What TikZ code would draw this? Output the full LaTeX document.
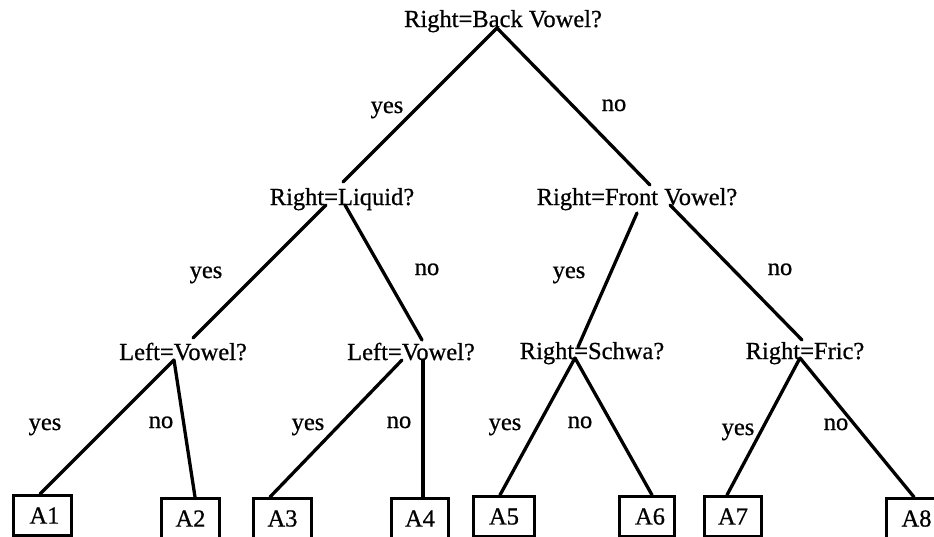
\documentclass[tikz,border=0pt]{standalone}
\usepackage{fontspec}
\newfontfamily\treefont{Liberation Serif}[FakeBold=0.7]
\usetikzlibrary{calc}
\begin{document}
\begin{tikzpicture}[x=1pt,y=-1pt,
  txt/.style={anchor=base,inner sep=0pt,font=\treefont\fontsize{24.5}{28}\selectfont},
  lbl/.style={anchor=base,inner sep=0pt,font=\treefont\fontsize{24.5}{28}\selectfont},
  leaf/.style={draw,line width=3pt,anchor=north west,inner sep=0pt,
    minimum height=40,font=\treefont\fontsize{24.5}{28}\selectfont},
  edge/.style={line width=3.3pt,line cap=round}]
\useasboundingbox (0,0) rectangle (934,536);

% question texts
\node[txt] (q0) at (503,27) {Right=Back Vowel?};
\node[txt] (q1) at (342,205) {Right=Liquid?};
\node[txt] (q2) at (637,205) {Right=Front Vowel?};
\node[txt] (q3) at (183,360) {Left=Vowel?};
\node[txt] (q4) at (411,360) {Left=Vowel?};
\node[txt] (q5) at (592,359) {Right=Schwa?};
\node[txt] (q6) at (805,359) {Right=Fric?};

% branch points
\coordinate (c0) at (497,28);
\coordinate (c1in) at (343,182);
\coordinate (c1l) at (326,205);
\coordinate (c1r) at (345,205);
\coordinate (c2in) at (650,185);
\coordinate (c2l) at (637,213);
\coordinate (c2r) at (670,205);
\coordinate (c3in) at (193,338);
\coordinate (c3) at (174,360);
\coordinate (c4in) at (422,340);
\coordinate (c4l) at (402,360);
\coordinate (c4r) at (423,360);
\coordinate (c5in) at (578,347);
\coordinate (c5) at (575,358);
\coordinate (c6in) at (802,340);
\coordinate (c6) at (800,358);

% leaves
\node[leaf,minimum width=58] (a1) at (12,494) {\hspace*{4pt}\raisebox{-2pt}{A1}\hfill};
\node[leaf,minimum width=58] (a2) at (160,497) {A2};
\node[leaf,minimum width=58] (a3) at (252,497) {A3};
\node[leaf,minimum width=57] (a4) at (390,497) {\raisebox{-3pt}{A4}};
\node[leaf,minimum width=61] (a5) at (472,495) {A5};
\node[leaf,minimum width=55] (a6) at (618,495) {\hspace*{6pt}A6};
\node[leaf,minimum width=57] (a7) at (703,495) {A7};
\node[leaf,minimum width=60] (a8) at (885,497) {\hspace*{6pt}A8\hspace*{6pt}};

% connectors
\draw[edge] (c0) -- (c1in);
\draw[edge] (c0) -- (c2in);
\draw[edge] (c1l) -- (c3in);
\draw[edge] (c1r) -- (c4in);
\draw[edge] (c2l) -- (c5in);
\draw[edge] (c2r) -- (c6in);
\draw[edge] (c3) -- ($(a1.north west)+(28,0)$);
\draw[edge] (c3) -- ($(a2.north west)+(35,0)$);
\draw[edge] (c4l) -- ($(a3.north west)+(18,0)$);
\draw[edge] (c4r) -- ($(a4.north west)+(33,0)$);
\draw[edge] (c5) -- ($(a5.north west)+(28,0)$);
\draw[edge] (c5) -- ($(a6.north west)+(34,0)$);
\draw[edge] (c6) -- ($(a7.north west)+(24,0)$);
\draw[edge] (c6) -- ($(a8.north west)+(29,0)$);

% branch labels
\node[lbl] (y0) at (387,113) {yes};
\node[lbl] (n0) at (614,111) {no};
\node[lbl] (y1) at (206,278) {yes};
\node[lbl] (n1) at (427,275) {no};
\node[lbl] (y2) at (569,278) {yes};
\node[lbl] (n2) at (780,275) {no};
\node[lbl] (y3) at (45,430) {yes};
\node[lbl] (n3) at (161,428) {no};
\node[lbl] (y4) at (308,430) {yes};
\node[lbl] (n4) at (399,428) {no};
\node[lbl] (y5) at (505,430) {yes};
\node[lbl] (n5) at (580,428) {no};
\node[lbl] (y6) at (738,435) {yes};
\node[lbl] (n6) at (836,430) {no};
\end{tikzpicture}
\end{document}
